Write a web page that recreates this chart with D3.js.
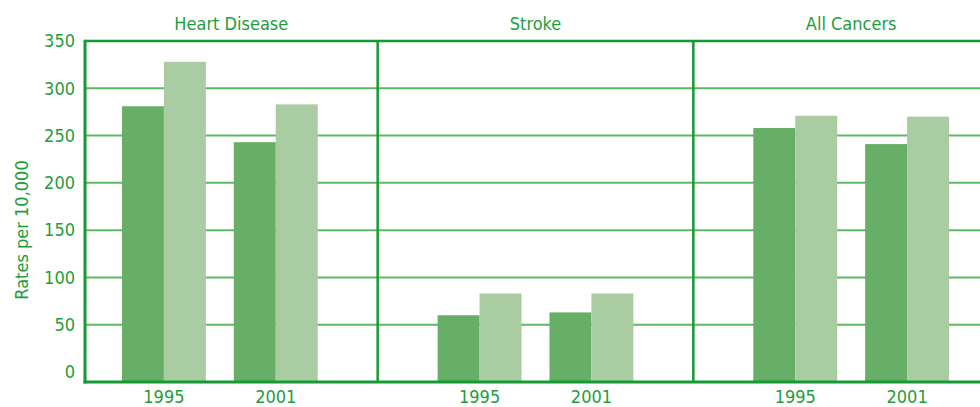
<!DOCTYPE html>
<html>
<head>
<meta charset="utf-8">
<script src="https://cdn.jsdelivr.net/npm/d3@7"></script>
<style>
  html, body { margin: 0; padding: 0; background: #fff; overflow: hidden; }
  text { font-family: "DejaVu Sans Condensed", "DejaVu Sans", sans-serif; font-stretch: condensed; fill: #1f9d3c; }
</style>
</head>
<body>
<div id="rateChart"></div>
<script>
// data
var categories = ["Heart Disease", "Stroke", "All Cancers"];
var years = ["1995", "2001"];
var seriesKeys = ["first", "second"];
// first series (darker bars), one value per year inside each category
var firstSeries = [[281, 243], [60, 63], [258, 241]];
// second series (lighter bars)
var secondSeries = [[328, 283], [83, 83], [271, 270]];
var yTicks = [0, 50, 100, 150, 200, 250, 300, 350];
var yLabel = "Rates per 10,000";

var fullWidth = 980;
var fullHeight = 407;
var axisX = 85;        // y axis sits here, first panel runs under it
var plotTop = 41;
var plotBottom = 382;
var axisColor = "#169a32";
var gridColor = "#5fb864";
var barColors = ["#67ae66", "#aacca2"];

var svg = d3.select("#rateChart")
  .append("svg")
    .attr("width", fullWidth)
    .attr("height", fullHeight);

// panels
var x0 = d3.scaleBand()
  .domain(categories)
  .range([62, 1009]);

// years inside a panel
var x1 = d3.scaleBand()
  .domain(years)
  .range([0, x0.bandwidth()])
  .paddingInner(0.25)
  .paddingOuter(0.536);

// series inside a year
var x2 = d3.scaleBand()
  .domain(seriesKeys)
  .range([0, x1.bandwidth()]);

// zero is a bit above the bottom line in the original
var y = d3.scaleLinear()
  .domain([0, 350])
  .range([372, plotTop]);

// grid lines
svg.append("g")
  .selectAll("line")
  .data(yTicks.filter(function(d){ return d > 0 && d < 350; }))
  .enter()
  .append("line")
    .attr("x1", axisX)
    .attr("x2", fullWidth)
    .attr("y1", function(d){ return y(d); })
    .attr("y2", function(d){ return y(d); })
    .attr("stroke", gridColor)
    .attr("stroke-width", 2);

// flatten into one row per bar
var barData = [];
categories.forEach(function(c, i){
  years.forEach(function(yr, j){
    barData.push({cat: c, year: yr, key: "first", value: firstSeries[i][j]});
    barData.push({cat: c, year: yr, key: "second", value: secondSeries[i][j]});
  });
});

svg.append("g")
  .selectAll("rect")
  .data(barData)
  .enter()
  .append("rect")
    .attr("x", function(d){ return x0(d.cat) + x1(d.year) + x2(d.key); })
    .attr("y", function(d){ return y(d.value); })
    .attr("width", x2.bandwidth())
    .attr("height", function(d){ return plotBottom - y(d.value); })
    .attr("fill", function(d){ return d.key == "first" ? barColors[0] : barColors[1]; });

// panel dividers
svg.append("g")
  .selectAll("line")
  .data(categories.slice(1))
  .enter()
  .append("line")
    .attr("x1", function(d){ return x0(d); })
    .attr("x2", function(d){ return x0(d); })
    .attr("y1", plotTop)
    .attr("y2", plotBottom)
    .attr("stroke", axisColor)
    .attr("stroke-width", 2.5);

// frame: top, left, bottom
svg.append("line")
  .attr("x1", axisX).attr("x2", fullWidth)
  .attr("y1", plotTop).attr("y2", plotTop)
  .attr("stroke", axisColor).attr("stroke-width", 2.5);
svg.append("line")
  .attr("x1", axisX).attr("x2", axisX)
  .attr("y1", plotTop - 1.25).attr("y2", plotBottom + 1.5)
  .attr("stroke", axisColor).attr("stroke-width", 3);
svg.append("line")
  .attr("x1", axisX - 1.5).attr("x2", fullWidth)
  .attr("y1", plotBottom).attr("y2", plotBottom)
  .attr("stroke", axisColor).attr("stroke-width", 3);

// y axis labels
var yAxis = svg.append("g")
  .attr("transform", "translate(" + axisX + ",0)")
  .call(d3.axisLeft(y).tickValues(yTicks).tickSize(0).tickPadding(10));
yAxis.select(".domain").remove();
yAxis.attr("font-family", null);
yAxis.selectAll("text")
  .attr("font-size", 18)
  .attr("fill", null);

// x axis labels, one small axis per panel
categories.forEach(function(c){
  var xa = svg.append("g")
    .attr("transform", "translate(" + x0(c) + "," + plotBottom + ")")
    .call(d3.axisBottom(x1).tickSize(0).tickPadding(8));
  xa.select(".domain").remove();
  xa.attr("font-family", null);
  xa.selectAll("text")
    .attr("font-size", 18)
    .attr("fill", null);
});

// panel titles, centred on the visible part of each panel
svg.append("g")
  .selectAll("text")
  .data(categories)
  .enter()
  .append("text")
    .attr("x", function(d){
      var left = Math.max(x0(d), axisX);
      return (left + x0(d) + x0.bandwidth()) / 2;
    })
    .attr("y", 30)
    .attr("text-anchor", "middle")
    .attr("font-size", 18)
    .text(function(d){ return d; });

// y axis title
svg.append("text")
  .attr("transform", "translate(28,230) rotate(-90)")
  .attr("text-anchor", "middle")
  .attr("font-size", 18)
  .text(yLabel);
</script>
</body>
</html>
